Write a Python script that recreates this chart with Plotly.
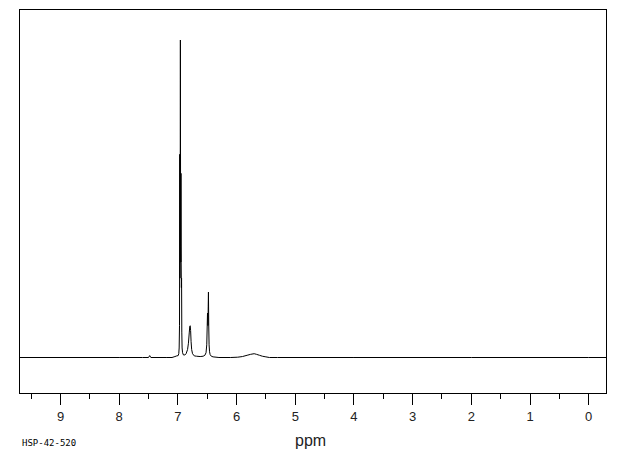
import plotly.graph_objects as go

# Spectrum trace points (chemical shift in ppm, relative intensity)
ppm = [9.69, 8.0, 7.6, 7.50, 7.48, 7.46, 7.2, 7.10, 7.05, 7.02, 6.995, 6.985, 6.978,
       6.972, 6.968, 6.964, 6.961, 6.957, 6.953, 6.950, 6.947, 6.944, 6.940, 6.937,
       6.933, 6.928, 6.92, 6.905, 6.88, 6.86, 6.835, 6.82, 6.805, 6.797, 6.79, 6.783,
       6.775, 6.765, 6.75, 6.72, 6.68, 6.62, 6.57, 6.54, 6.52, 6.508, 6.500, 6.495,
       6.491, 6.487, 6.483, 6.479, 6.474, 6.468, 6.46, 6.45, 6.43, 6.40, 6.30, 6.10,
       5.98, 5.90, 5.82, 5.76, 5.70, 5.66, 5.61, 5.56, 5.50, 5.44, 5.30, 4.0, 2.0, 0.0, -0.295]
intensity = [0.0, 0.0, 0.0, 0.0, 0.006, 0.0, 0.0, 0.0, 0.003, 0.005, 0.006, 0.012, 0.03,
             0.10, 0.64, 0.25, 0.35, 1.0, 0.35, 0.30, 0.58, 0.30, 0.22, 0.25,
             0.08, 0.03, 0.015, 0.008, 0.008, 0.012, 0.025, 0.045, 0.08, 0.098, 0.10, 0.085,
             0.05, 0.025, 0.012, 0.005, 0.004, 0.003, 0.004, 0.007, 0.015, 0.04, 0.10, 0.14,
             0.13, 0.10, 0.16, 0.206, 0.10, 0.04, 0.018, 0.009, 0.004, 0.002, 0.0, 0.0,
             0.001, 0.003, 0.007, 0.010, 0.012, 0.010, 0.007, 0.004, 0.002, 0.0, 0.0, 0.0, 0.0, 0.0, 0.0]

x_ticks = [9, 8, 7, 6, 5, 4, 3, 2, 1, 0]
x_tick_labels = ["9", "8", "7", "6", "5", "4", "3", "2", "1", "0"]
x_title = "ppm"
footer_label = "HSP-42-520"

fig = go.Figure()
fig.add_trace(go.Scatter(
    x=ppm, y=intensity, mode="lines",
    line=dict(color="black", width=1, simplify=False),
    hoverinfo="skip", showlegend=False,
))

fig.update_layout(
    width=612, height=447,
    margin=dict(l=12, r=14, t=2, b=62),
    paper_bgcolor="white", plot_bgcolor="white",
    font=dict(family="Liberation Sans, Arial, sans-serif", color="black"),
    xaxis=dict(
        range=[9.69, -0.295],
        tickmode="array", tickvals=x_ticks, ticktext=x_tick_labels,
        ticks="outside", ticklen=11, tickwidth=1, tickcolor="black",
        tickfont=dict(size=13, color="#222"),
        showline=True, linecolor="black", linewidth=1, mirror=True,
        showgrid=False, zeroline=False,
        minor=dict(dtick=0.5, tick0=0, ticks="outside", ticklen=5,
                   tickwidth=1, tickcolor="black", showgrid=False),
    ),
    yaxis=dict(
        range=[-0.1118, 1.0945],
        showticklabels=False, ticks="",
        showline=True, linecolor="black", linewidth=1, mirror=True,
        showgrid=False, zeroline=False,
    ),
    annotations=[
        dict(text=x_title, xref="paper", yref="paper",
             x=(310 - 20) / 586, y=-(440 - 393) / 383,
             xanchor="center", yanchor="middle", showarrow=False,
             font=dict(size=16, color="#222", family="Liberation Sans, Arial, sans-serif")),
        dict(text=footer_label, xref="paper", yref="paper",
             x=0, y=-(443 - 393) / 383,
             xanchor="left", yanchor="middle", showarrow=False,
             font=dict(size=9, color="black", family="DejaVu Sans Mono, monospace")),
    ],
)

fig.write_html("out.html")
